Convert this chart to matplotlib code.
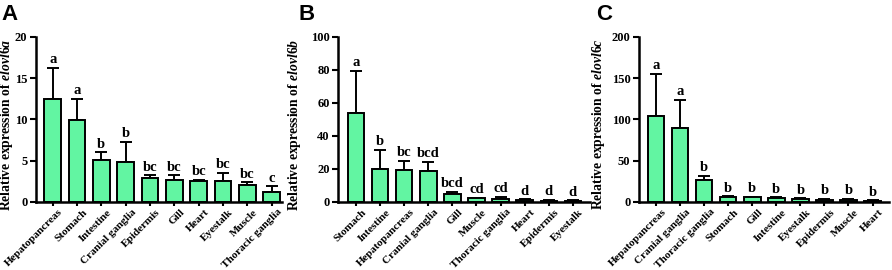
import matplotlib
matplotlib.use("Agg")
import matplotlib.pyplot as plt
import matplotlib.transforms as mtransforms
import numpy as np

plt.rcParams['font.family'] = 'Liberation Serif'
plt.rcParams['font.weight'] = 'bold'
plt.rcParams['mathtext.fontset'] = 'custom'
plt.rcParams['mathtext.rm'] = 'Liberation Serif:bold'
plt.rcParams['mathtext.it'] = 'Liberation Serif:italic:bold'

# panel A - elovl6a
tissues_a = ['Hepatopancreas', 'Stomach', 'Intestine', 'Cranial ganglia', 'Epidermis',
             'Gill', 'Heart', 'Eyestalk', 'Muscle', 'Thoracic ganglia']
mean_a = [12.5, 9.9, 5.1, 4.8, 2.9, 2.65, 2.6, 2.5, 2.0, 1.2]
err_a = [3.8, 2.6, 0.9, 2.5, 0.35, 0.6, 0.1, 1.0, 0.4, 0.7]
sig_a = ['a', 'a', 'b', 'b', 'bc', 'bc', 'bc', 'bc', 'bc', 'c']

# panel B - elovl6b
tissues_b = ['Stomach', 'Intestine', 'Hepatopancreas', 'Cranial ganglia', 'Gill',
             'Muscle', 'Thoracic ganglia', 'Heart', 'Epidermis', 'Eyestalk']
mean_b = [54, 20, 19.5, 18.5, 5.0, 2.3, 2.0, 1.2, 0.8, 0.6]
err_b = [25.5, 11.5, 5.5, 6.0, 1.0, 0.3, 1.0, 0.3, 0.4, 0.4]
sig_b = ['a', 'b', 'bc', 'bcd', 'bcd', 'cd', 'cd', 'd', 'd', 'd']

# panel C - elovl6c
tissues_c = ['Hepatopancreas', 'Cranial ganglia', 'Thoracic ganglia', 'Stomach', 'Gill',
             'Intestine', 'Eyestalk', 'Epidermis', 'Muscle', 'Heart']
mean_c = [104, 90, 27, 6, 5.5, 4.5, 4, 2.5, 2.5, 1.5]
err_c = [51, 34, 4.5, 1.0, 1.0, 1.0, 0.5, 1.0, 1.0, 0.5]
sig_c = ['a', 'a', 'b', 'b', 'b', 'b', 'b', 'b', 'b', 'b']

# letter, data, gene, ymax, ystep, axes rect, xlim, ylabel x, letter x
panels = [
    ('A', tissues_a, mean_a, err_a, sig_a, 'elovl6a', 20, 5, [0.040, 0.252, 0.276, 0.611], (-0.7, 9.42), -0.082, 0.002),
    ('B', tissues_b, mean_b, err_b, sig_b, 'elovl6b', 100, 20, [0.379, 0.252, 0.282, 0.611], (-0.75, 9.7), -0.14, 0.335),
    ('C', tissues_c, mean_c, err_c, sig_c, 'elovl6c', 200, 50, [0.716, 0.252, 0.281, 0.611], (-0.73, 9.7), -0.125, 0.668),
]

fig = plt.figure(figsize=(8.92, 2.70), dpi=100)
bar_color = '#62f5a2'
shift = mtransforms.ScaledTranslation(4 / 72, 0, fig.dpi_scale_trans)

for letter, names, means, errs, sigs, gene, ymax, step, rect, xl, lx, px in panels:
    ax = fig.add_axes(rect)
    x = np.arange(len(names))
    ax.bar(x, means, width=0.68, color=bar_color, edgecolor='black', linewidth=1.4, zorder=2)
    ax.errorbar(x, means, yerr=[np.zeros(len(errs)), errs], fmt='none', ecolor='black',
                elinewidth=1.4, capsize=4, capthick=1.4, zorder=1)
    for xi, m, e, s in zip(x, means, errs, sigs):
        ax.text(xi, m + e + ymax * 0.01, s, ha='center', va='bottom', fontsize=10.5,
                fontweight='bold')
    ax.set_xlim(*xl)
    ax.set_ylim(0, ymax)
    ax.set_yticks(np.arange(0, ymax + step / 2, step))
    ax.set_xticks(x)
    ax.set_xticklabels(names, rotation=45, ha='right', rotation_mode='anchor', fontsize=8)
    ax.tick_params(axis='y', labelsize=9, width=1.5, length=4, pad=2)
    ax.tick_params(axis='x', width=1.5, length=3, pad=1)
    for lab in ax.get_xticklabels():
        lab.set_transform(lab.get_transform() + shift)
    for lab in ax.get_yticklabels() + ax.get_xticklabels():
        lab.set_fontweight('bold')
    ax.spines['top'].set_visible(False)
    ax.spines['right'].set_visible(False)
    ax.spines['left'].set_linewidth(1.8)
    ax.spines['bottom'].set_linewidth(1.8)
    ax.set_ylabel(r'Relative expression of $\mathit{' + gene + '}$', fontsize=9.8,
                  fontweight='bold')
    ax.yaxis.set_label_coords(lx, 0.47)
    fig.text(px, 0.985, letter, fontsize=16, fontweight='bold',
             family='Liberation Sans', ha='left', va='top')

fig.savefig('out.png', dpi=100)
